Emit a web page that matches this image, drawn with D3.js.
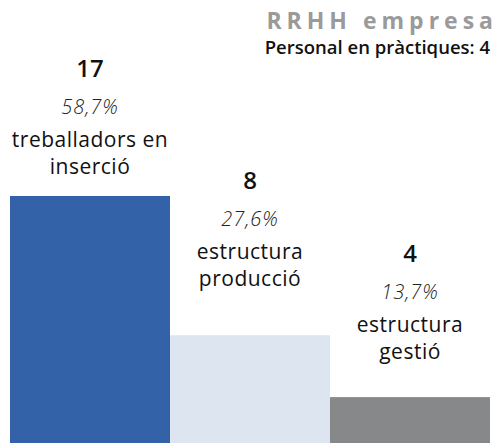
<!DOCTYPE html>
<html>
<head>
<meta charset="utf-8">
<script src="https://cdn.jsdelivr.net/npm/d3@7"></script>
<style>
  body { margin: 0; background: #fff; }
  svg { display: block; font-family: "Open Sans", "Noto Sans", sans-serif; }
</style>
</head>
<body>
<svg id="chart"></svg>
<script>
// data
var categories = ["treballadors en inserció", "estructura producció", "estructura gestió"]
var labelLines = [["treballadors en", "inserció"], ["estructura", "producció"], ["estructura", "gestió"]]
var values = [17, 8, 4]
var percents = ["58,7%", "27,6%", "13,7%"]
var colors = ["#3362a9", "#dde5f0", "#87888a"]
var title = "RRHH empresa"
var subtitle = "Personal en pràctiques: 4"

var width = 498, height = 443

var svg = d3.select("#chart")
  .attr("width", width)
  .attr("height", height)

var x = d3.scaleBand()
  .domain(categories)
  .range([10, 490])
  .padding(0)

var y = d3.scaleLinear()
  .domain([0, 17])
  .range([459, 196])

// gap between bar top and the number label baseline (layout only)
var labelGap = [119, 146, 135]

svg.append("g")
  .selectAll("rect")
  .data(categories)
  .enter()
  .append("rect")
  .attr("x", function(d) { return x(d) })
  .attr("y", function(d, i) { return y(values[i]) })
  .attr("width", x.bandwidth())
  .attr("height", function(d, i) { return y(0) - y(values[i]) })
  .attr("fill", function(d, i) { return colors[i] })

var labels = svg.append("g")
  .selectAll("g")
  .data(categories)
  .enter()
  .append("g")
  .attr("transform", function(d, i) {
    return "translate(" + (x(d) + x.bandwidth() / 2) + "," + (y(values[i]) - labelGap[i]) + ")"
  })
  .attr("text-anchor", "middle")

labels.append("text")
  .attr("y", 0)
  .attr("font-size", 24)
  .attr("font-weight", 600)
  .attr("fill", "#111")
  .text(function(d, i) { return values[i] })

labels.append("text")
  .attr("y", 37)
  .attr("font-size", 20)
  .attr("font-style", "italic")
  .attr("font-weight", 300)
  .attr("letter-spacing", 1)
  .attr("fill", "#222")
  .text(function(d, i) { return percents[i] })

labels.each(function(d, i) {
  var g = d3.select(this)
  labelLines[i].forEach(function(line, j) {
    g.append("text")
      .attr("y", 70 + j * 27)
      .attr("font-size", 21)
      .attr("letter-spacing", 0.5)
      .attr("fill", "#111")
      .text(line)
  })
})

// title block
svg.append("text")
  .attr("x", 498)
  .attr("y", 29)
  .attr("text-anchor", "end")
  .attr("font-size", 23)
  .attr("font-weight", 700)
  .attr("letter-spacing", 5)
  .attr("fill", "#9a9a9a")
  .text(title)

svg.append("text")
  .attr("x", 490)
  .attr("y", 54)
  .attr("text-anchor", "end")
  .attr("font-size", 18.5)
  .attr("font-weight", 600)
  .attr("fill", "#111")
  .text(subtitle)
</script>
</body>
</html>
